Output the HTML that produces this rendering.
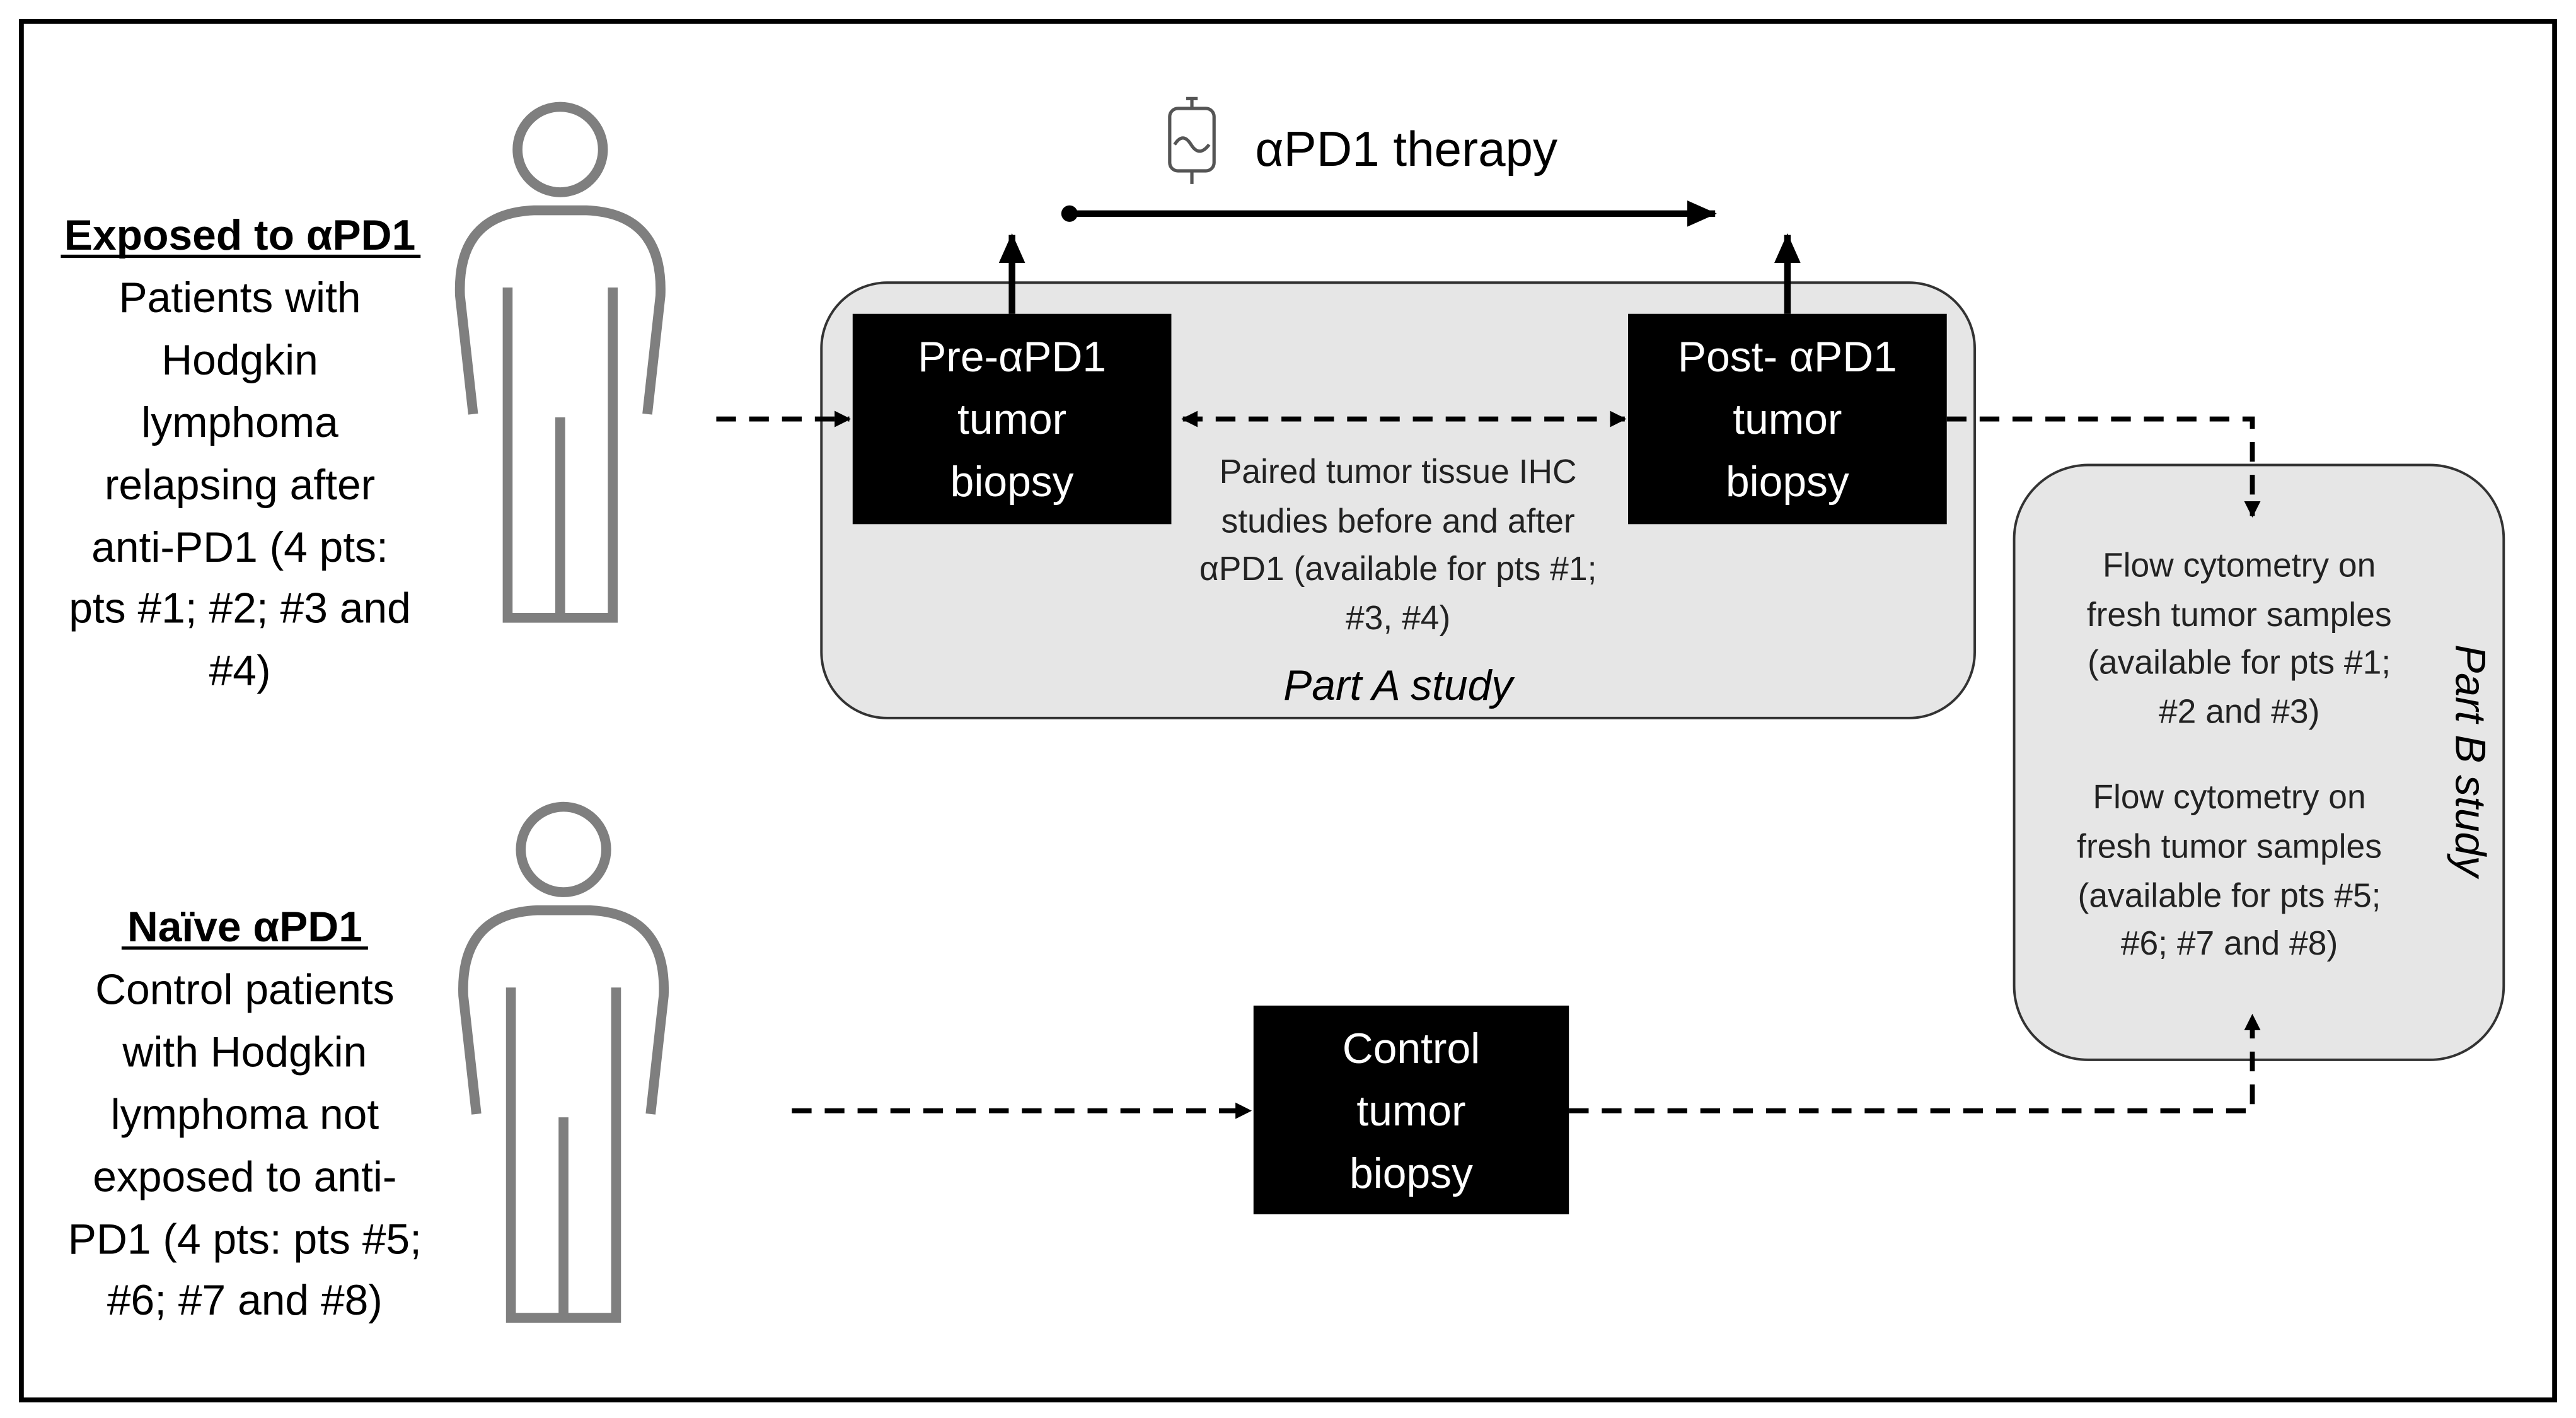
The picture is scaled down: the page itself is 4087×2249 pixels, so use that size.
<!DOCTYPE html>
<html><head><meta charset="utf-8"><style>
html,body{margin:0;padding:0;background:#fff;}
svg{display:block;}
text{font-family:"Liberation Sans","DejaVu Sans",sans-serif;}
</style></head><body>
<svg width="4087" height="2249" viewBox="0 0 1568 863" preserveAspectRatio="none" xmlns="http://www.w3.org/2000/svg">
<defs>
<marker id="ah" markerWidth="10" markerHeight="10" refX="9" refY="5" orient="auto" markerUnits="userSpaceOnUse"><path d="M0,0 L10,5 L0,10 Z" fill="#000"/></marker>
<marker id="ahb" markerWidth="18" markerHeight="16" refX="17" refY="8" orient="auto" markerUnits="userSpaceOnUse"><path d="M0,0 L18,8 L0,16 Z" fill="#000"/></marker>
<marker id="ahs" markerWidth="10" markerHeight="10" refX="1" refY="5" orient="auto" markerUnits="userSpaceOnUse"><path d="M10,0 L0,5 L10,10 Z" fill="#000"/></marker>
</defs>
<rect x="13" y="13" width="1542" height="839" fill="#fff" stroke="#000" stroke-width="3"/>

<g fill="none" stroke="#7f7f7f" stroke-width="6">
<circle cx="341" cy="91" r="26"/>
<path d="M288 252 L280 180 Q278 130 325 128 L357 128 Q404 130 402 180 L394 252"/>
<path d="M309 175 L309 376 L373 376 L373 175"/>
<path d="M341 254 L341 376"/>
</g>
<g fill="none" stroke="#7f7f7f" stroke-width="6" transform="translate(2,426)">
<circle cx="341" cy="91" r="26"/>
<path d="M288 252 L280 180 Q278 130 325 128 L357 128 Q404 130 402 180 L394 252"/>
<path d="M309 175 L309 376 L373 376 L373 175"/>
<path d="M341 254 L341 376"/>
</g>

<g font-size="26" text-anchor="middle" fill="#000">
<text x="146" y="152" font-weight="bold">Exposed to αPD1</text>
<line x1="37" y1="156" x2="256" y2="156" stroke="#000" stroke-width="2"/>
<text x="146" y="190">Patients with</text>
<text x="146" y="228">Hodgkin</text>
<text x="146" y="266">lymphoma</text>
<text x="146" y="304">relapsing after</text>
<text x="146" y="342">anti-PD1 (4 pts:</text>
<text x="146" y="379">pts #1; #2; #3 and</text>
<text x="146" y="417">#4)</text>

<text x="149" y="573" font-weight="bold">Naïve αPD1</text>
<line x1="74" y1="577" x2="224" y2="577" stroke="#000" stroke-width="2"/>
<text x="149" y="611">Control patients</text>
<text x="149" y="649">with Hodgkin</text>
<text x="149" y="687">lymphoma not</text>
<text x="149" y="725">exposed to anti-</text>
<text x="149" y="763">PD1 (4 pts: pts #5;</text>
<text x="149" y="800">#6; #7 and #8)</text>
</g>

<rect x="500" y="172" width="702" height="265" rx="40" fill="#e6e6e6" stroke="#333" stroke-width="1.5"/>
<rect x="519" y="191" width="194" height="128" fill="#000"/>
<rect x="991" y="191" width="194" height="128" fill="#000"/>
<g font-size="26" text-anchor="middle" fill="#fff">
<text x="616" y="226">Pre-αPD1</text><text x="616" y="264">tumor</text><text x="616" y="302">biopsy</text>
<text x="1088" y="226">Post- αPD1</text><text x="1088" y="264">tumor</text><text x="1088" y="302">biopsy</text>
</g>
<g stroke="#000" stroke-width="4">
<line x1="616" y1="191" x2="616" y2="143" marker-end="url(#ahb)"/>
<line x1="1088" y1="191" x2="1088" y2="143" marker-end="url(#ahb)"/>
<line x1="651" y1="130" x2="1044" y2="130" marker-end="url(#ahb)"/>
</g>
<circle cx="651" cy="130" r="5" fill="#000"/>
<g fill="none" stroke="#555" stroke-width="2">
<rect x="712" y="66" width="27" height="38" rx="5"/>
<line x1="722" y1="60" x2="729" y2="60"/><line x1="725.5" y1="60" x2="725.5" y2="66"/>
<path d="M715 88 Q720 80 725 88 T736 88"/>
<line x1="725.5" y1="104" x2="725.5" y2="112"/>
</g>
<text x="764" y="101" font-size="30">αPD1 therapy</text>

<rect x="1226" y="283" width="298" height="362" rx="45" fill="#e6e6e6" stroke="#333" stroke-width="1.5"/>

<g stroke="#000" stroke-width="3" stroke-dasharray="12,8" fill="none">
<line x1="720" y1="255" x2="989" y2="255" marker-end="url(#ah)" marker-start="url(#ahs)"/>
<line x1="436" y1="255" x2="517" y2="255" marker-end="url(#ah)"/>
<polyline points="1185,255 1371,255 1371,314" marker-end="url(#ah)"/>
<line x1="482" y1="676" x2="761" y2="676" marker-end="url(#ah)"/>
<polyline points="955,676 1371,676 1371,618" marker-end="url(#ah)"/>
</g>

<g font-size="20.5" text-anchor="middle" fill="#222">
<text x="851" y="294">Paired tumor tissue IHC</text>
<text x="851" y="324">studies before and after</text>
<text x="851" y="353">αPD1 (available for pts #1;</text>
<text x="851" y="383">#3, #4)</text>
</g>
<text x="851" y="426" font-size="26" font-style="italic" text-anchor="middle">Part A study</text>

<g font-size="20.5" text-anchor="middle" fill="#222">
<text x="1363" y="351">Flow cytometry on</text>
<text x="1363" y="381">fresh tumor samples</text>
<text x="1363" y="410">(available for pts #1;</text>
<text x="1363" y="440">#2 and #3)</text>
<text x="1357" y="492">Flow cytometry on</text>
<text x="1357" y="522">fresh tumor samples</text>
<text x="1357" y="552">(available for pts #5;</text>
<text x="1357" y="581">#6; #7 and #8)</text>
</g>
<text transform="translate(1495,463) rotate(90)" font-size="26" font-style="italic" text-anchor="middle">Part B study</text>

<rect x="763" y="612" width="192" height="127" fill="#000"/>
<g font-size="26" text-anchor="middle" fill="#fff">
<text x="859" y="647">Control</text><text x="859" y="685">tumor</text><text x="859" y="723">biopsy</text>
</g>
</svg>
</body></html>
